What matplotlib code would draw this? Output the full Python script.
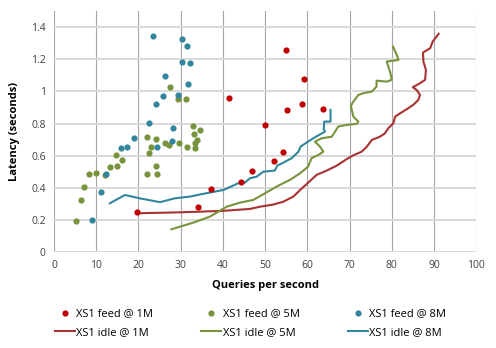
import matplotlib
matplotlib.use("Agg")
import matplotlib.pyplot as plt

# scatter data: XS1 feed at 1M / 5M / 8M
feed_1m_x = [19.7, 34.1, 37.2, 41.4, 44.3, 47.0, 50.0, 52.0, 54.3, 54.9, 55.3, 58.8, 59.3, 63.6]
feed_1m_y = [0.249, 0.280, 0.393, 0.957, 0.436, 0.507, 0.793, 0.565, 0.623, 1.257, 0.885, 0.924, 1.078, 0.891]

feed_5m_x = [5.1, 6.3, 7.2, 8.2, 10.0, 12.1, 13.2, 14.6, 14.9, 16.0, 22.1, 22.4, 22.9, 24.2,
             22.0, 24.2, 24.4, 26.2, 27.3, 27.4, 29.3, 31.2, 29.6, 31.5, 33.0, 33.2, 33.4,
             33.8, 33.4, 34.6]
feed_5m_y = [0.193, 0.324, 0.407, 0.486, 0.492, 0.480, 0.530, 0.604, 0.538, 0.575, 0.714, 0.615,
             0.654, 0.702, 0.486, 0.534, 0.486, 0.679, 0.665, 1.030, 0.953, 0.955, 0.681, 0.656,
             0.787, 0.737, 0.681, 0.696, 0.650, 0.760]

feed_8m_x = [23.4, 30.3, 31.5, 30.3, 32.3, 26.4, 31.8, 25.9, 29.3, 24.2, 22.5, 28.1, 19.0, 27.9,
             24.4, 17.3, 15.9, 12.4, 11.2, 9.0]
feed_8m_y = [1.344, 1.327, 1.283, 1.184, 1.178, 1.097, 1.045, 0.974, 0.978, 0.924, 0.806, 0.771,
             0.712, 0.690, 0.654, 0.654, 0.648, 0.484, 0.372, 0.201]

# line data: XS1 idle at 1M / 5M / 8M
idle_1m_x = [19.7, 30.0, 40.0, 46.4, 48.8, 51.9, 54.3, 56.7, 58.3, 59.8, 62.2, 64.6, 67.0, 69.3,
             70.9, 72.9, 74.1, 75.3, 77.2, 78.4, 79.2, 80.4, 80.8, 82.0, 83.9, 85.1, 86.3, 86.7,
             85.9, 85.0, 86.7, 87.9, 88.1, 87.5, 87.4, 89.1, 89.7, 91.1]
idle_1m_y = [0.241, 0.247, 0.256, 0.268, 0.282, 0.295, 0.313, 0.345, 0.386, 0.422, 0.480, 0.507,
             0.538, 0.578, 0.602, 0.625, 0.656, 0.698, 0.718, 0.739, 0.771, 0.802, 0.843, 0.864,
             0.895, 0.916, 0.947, 0.978, 1.009, 1.026, 1.051, 1.072, 1.134, 1.186, 1.242, 1.269,
             1.310, 1.358]

idle_5m_x = [27.8, 33.0, 36.9, 40.9, 44.0, 47.2, 50.0, 52.7, 55.9, 58.3, 60.2, 61.0, 62.6, 63.8,
             63.0, 61.8, 63.4, 65.8, 66.6, 67.3, 69.3, 71.7, 72.1, 70.9, 70.3, 70.9, 72.1, 73.3,
             75.3, 76.4, 76.4, 78.8, 80.0, 79.6, 78.8, 81.6, 81.2, 80.3]
idle_5m_y = [0.141, 0.183, 0.220, 0.282, 0.307, 0.324, 0.366, 0.407, 0.449, 0.490, 0.532, 0.584,
             0.604, 0.625, 0.656, 0.687, 0.708, 0.718, 0.750, 0.781, 0.791, 0.798, 0.812, 0.843,
             0.910, 0.936, 0.978, 0.989, 0.999, 1.030, 1.067, 1.061, 1.072, 1.123, 1.186, 1.196,
             1.227, 1.279]

idle_8m_x = [13.2, 16.8, 20.3, 25.1, 28.6, 32.2, 36.1, 40.1, 44.0, 45.2, 46.4, 48.0, 49.6, 52.3,
             52.9, 54.3, 56.3, 57.9, 58.4, 59.8, 61.8, 64.2, 63.9, 64.0, 65.5, 65.5]
idle_8m_y = [0.303, 0.355, 0.334, 0.310, 0.334, 0.345, 0.366, 0.386, 0.432, 0.432, 0.459, 0.469,
             0.500, 0.507, 0.538, 0.556, 0.584, 0.625, 0.656, 0.681, 0.714, 0.750, 0.765, 0.812,
             0.812, 0.885]

RED_DOT = "#C00000"
RED_LINE = "#A83232"
GREEN = "#77933C"
BLUE = "#31859C"

plt.rcParams["font.family"] = ["Open Sans", "DejaVu Sans"]

fig = plt.figure(figsize=(4.96, 3.48), dpi=100)
ax = fig.add_axes([0.109, 0.276, 0.851, 0.692])

ax.scatter(feed_1m_x, feed_1m_y, s=20, color=RED_DOT, linewidths=0, zorder=3, label="XS1 feed @ 1M")
ax.plot(idle_1m_x, idle_1m_y, color=RED_LINE, lw=1.5, zorder=2, label="XS1 idle @ 1M")
ax.scatter(feed_5m_x, feed_5m_y, s=20, color=GREEN, linewidths=0, zorder=3, label="XS1 feed @ 5M")
ax.plot(idle_5m_x, idle_5m_y, color=GREEN, lw=1.5, zorder=2, label="XS1 idle @ 5M")
ax.scatter(feed_8m_x, feed_8m_y, s=20, color=BLUE, linewidths=0, zorder=3, label="XS1 feed @ 8M")
ax.plot(idle_8m_x, idle_8m_y, color=BLUE, lw=1.5, zorder=2, label="XS1 idle @ 8M")

ax.set_xlim(0, 100)
ax.set_ylim(0, 1.5)
ax.set_xticks(range(0, 101, 10))
ax.set_yticks([0, 0.2, 0.4, 0.6, 0.8, 1.0, 1.2, 1.4])
ax.set_yticklabels(["0", "0.2", "0.4", "0.6", "0.8", "1", "1.2", "1.4"])
ax.tick_params(length=0, labelsize=7.5, colors="#404040", pad=6)

for sp in ax.spines.values():
    sp.set_visible(False)
ax.grid(axis="x", color="#A6A6A6", lw=0.8)
ax.grid(axis="y", color="#D9D9D9", lw=1.4)
ax.set_axisbelow(True)

ax.set_xlabel("Queries per second", fontsize=8, fontweight="bold", labelpad=6)
ax.set_ylabel("Latency (seconds)", fontsize=8, fontweight="bold", labelpad=8)

fig.legend(loc="lower left", bbox_to_anchor=(0.09, 0.0), ncol=3, frameon=False,
           fontsize=8, handlelength=1.8, handletextpad=0.15, columnspacing=4.3,
           labelspacing=0.75, scatterpoints=1)

fig.savefig("out.png", dpi=100)
